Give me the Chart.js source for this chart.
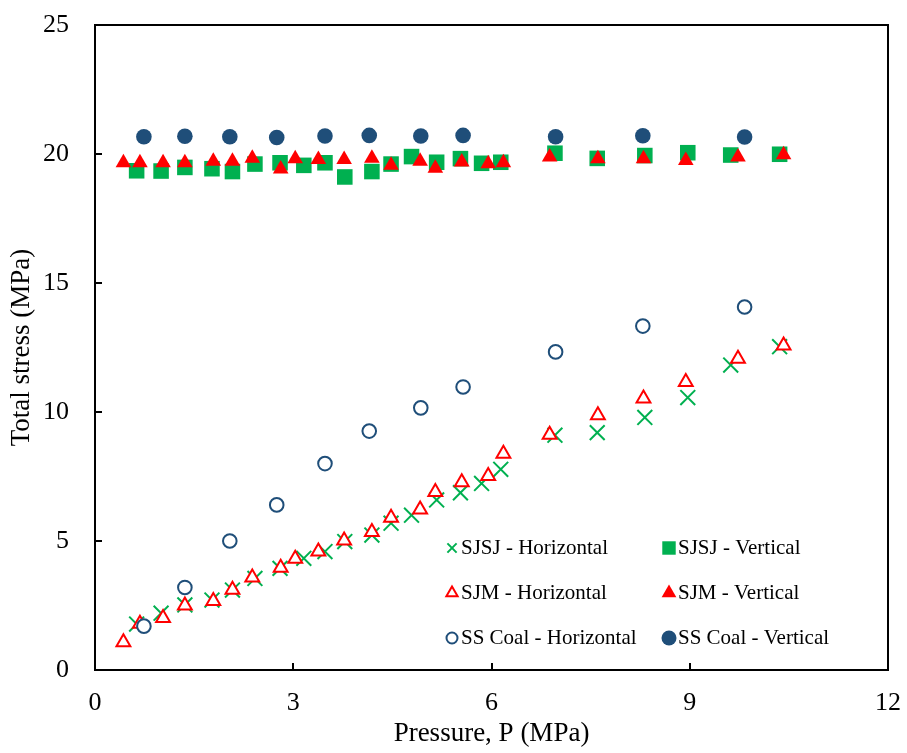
<!DOCTYPE html>
<html>
<head>
<meta charset="utf-8">
<script src="https://cdn.jsdelivr.net/npm/chart.js"></script>
<style>
  html, body { margin: 0; padding: 0; background: #fff; }
</style>
</head>
<body>
<canvas id="chart" width="907" height="753"></canvas>
<script>
// axis ticks
const xTicks = [0, 3, 6, 9, 12];
const yTicks = [0, 5, 10, 15, 20, 25];

// SJSJ
const sjsjPressure = [0.63, 1.0, 1.36, 1.77, 2.08, 2.42, 2.8, 3.16, 3.48, 3.78, 4.19, 4.48, 4.79, 5.17, 5.53, 5.85, 6.14, 6.96, 7.6, 8.32, 8.97, 9.62, 10.36];
const sjsjHorizontal = [1.78, 2.2, 2.52, 2.71, 3.1, 3.55, 3.94, 4.33, 4.59, 4.98, 5.23, 5.69, 6.0, 6.59, 6.87, 7.23, 7.78, 9.1, 9.2, 9.79, 10.56, 11.82, 12.53];
const sjsjVertical = [19.35, 19.34, 19.48, 19.43, 19.32, 19.61, 19.66, 19.56, 19.66, 19.11, 19.32, 19.61, 19.9, 19.68, 19.82, 19.64, 19.68, 20.03, 19.83, 19.94, 20.05, 19.96, 19.99];

// SJM
const sjmPressure = [0.43, 0.68, 1.03, 1.36, 1.79, 2.08, 2.38, 2.81, 3.03, 3.38, 3.77, 4.19, 4.48, 4.92, 5.15, 5.55, 5.95, 6.18, 6.88, 7.61, 8.3, 8.94, 9.73, 10.42];
const sjmHorizontal = [1.08, 1.79, 2.02, 2.5, 2.67, 3.11, 3.59, 3.96, 4.31, 4.59, 5.02, 5.35, 5.9, 6.22, 6.9, 7.28, 7.52, 8.38, 9.12, 9.87, 10.52, 11.16, 12.06, 12.58];
const sjmVertical = [19.66, 19.66, 19.66, 19.66, 19.72, 19.72, 19.84, 19.42, 19.82, 19.79, 19.79, 19.84, 19.56, 19.72, 19.45, 19.69, 19.62, 19.66, 19.88, 19.82, 19.82, 19.75, 19.88, 19.97];

// SS Coal
const ssPressure = [0.74, 1.36, 2.04, 2.75, 3.48, 4.15, 4.93, 5.57, 6.97, 8.29, 9.83];
const ssHorizontal = [1.7, 3.2, 5.0, 6.4, 8.0, 9.26, 10.16, 10.97, 12.33, 13.33, 14.07];
const ssVertical = [20.67, 20.69, 20.67, 20.64, 20.7, 20.72, 20.7, 20.72, 20.67, 20.71, 20.66];

const seriesLabels = ['SJSJ - Horizontal', 'SJSJ - Vertical', 'SJM - Horizontal', 'SJM - Vertical', 'SS Coal - Horizontal', 'SS Coal - Vertical'];

const GREEN = '#00B050';
const RED = '#FF0000';
const BLUE = '#1F4E79';
const FONT = "'Liberation Serif', 'Times New Roman', serif";

const pts = (xs, ys) => xs.map((x, i) => ({ x: x, y: ys[i] }));

const datasets = [
  { label: seriesLabels[0], data: pts(sjsjPressure, sjsjHorizontal), pointStyle: 'crossRot', radius: 10.5, borderColor: GREEN, backgroundColor: GREEN, borderWidth: 2 },
  { label: seriesLabels[1], data: pts(sjsjPressure, sjsjVertical), pointStyle: 'rect', radius: 11, borderColor: GREEN, backgroundColor: GREEN, borderWidth: 0 },
  { label: seriesLabels[2], data: pts(sjmPressure, sjmHorizontal), pointStyle: 'triangle', radius: 8, borderColor: RED, backgroundColor: '#ffffff', borderWidth: 2 },
  { label: seriesLabels[3], data: pts(sjmPressure, sjmVertical), pointStyle: 'triangle', radius: 9, borderColor: RED, backgroundColor: RED, borderWidth: 0 },
  { label: seriesLabels[4], data: pts(ssPressure, ssHorizontal), pointStyle: 'circle', radius: 6.8, borderColor: BLUE, backgroundColor: '#ffffff', borderWidth: 2 },
  { label: seriesLabels[5], data: pts(ssPressure, ssVertical), pointStyle: 'circle', radius: 7.8, borderColor: BLUE, backgroundColor: BLUE, borderWidth: 0 }
];
datasets.forEach((d, i) => {
  d.order = datasets.length - i;
  d.pointRadius = d.radius;
  d.pointHoverRadius = d.radius;
  d.showLine = false;
});

// legend marker drawing
function drawMarker(ctx, style, x, y, r, fill, stroke, lw) {
  ctx.save();
  ctx.beginPath();
  if (style === 'circle') {
    ctx.arc(x, y, r, 0, Math.PI * 2);
  } else if (style === 'rect') {
    const s = r * Math.SQRT1_2;
    ctx.rect(x - s, y - s, 2 * s, 2 * s);
  } else if (style === 'triangle') {
    for (let k = 0; k < 3; k++) {
      const a = k * 2 * Math.PI / 3;
      const px = x + Math.sin(a) * r, py = y - Math.cos(a) * r;
      if (k === 0) ctx.moveTo(px, py); else ctx.lineTo(px, py);
    }
    ctx.closePath();
  } else if (style === 'crossRot') {
    const o = r * Math.SQRT1_2;
    ctx.moveTo(x - o, y - o); ctx.lineTo(x + o, y + o);
    ctx.moveTo(x + o, y - o); ctx.lineTo(x - o, y + o);
  }
  if (fill && style !== 'crossRot') { ctx.fillStyle = fill; ctx.fill(); }
  if (lw > 0) { ctx.strokeStyle = stroke; ctx.lineWidth = lw; ctx.stroke(); }
  ctx.restore();
}

const legendMarkers = [
  { style: 'crossRot', r: 6.5, fill: null, stroke: GREEN, lw: 2 },
  { style: 'rect', r: 9.5, fill: GREEN, stroke: GREEN, lw: 0 },
  { style: 'triangle', r: 6.5, fill: '#ffffff', stroke: RED, lw: 2 },
  { style: 'triangle', r: 8.5, fill: RED, stroke: RED, lw: 0 },
  { style: 'circle', r: 5.5, fill: '#ffffff', stroke: BLUE, lw: 2 },
  { style: 'circle', r: 7.5, fill: BLUE, stroke: BLUE, lw: 0 }
];

const framePlugin = {
  id: 'frame',
  afterDraw(chart) {
    const ctx = chart.ctx;
    const a = chart.chartArea;
    ctx.save();
    ctx.strokeStyle = '#000';
    ctx.lineWidth = 2;
    ctx.strokeRect(a.left, a.top, a.right - a.left, a.bottom - a.top);

    // legend, 2 columns x 3 rows inside the plot
    ctx.font = '21px ' + FONT;
    ctx.fillStyle = '#000';
    ctx.textBaseline = 'middle';
    ctx.textAlign = 'left';
    seriesLabels.forEach((label, i) => {
      const col = i % 2, row = Math.floor(i / 2);
      const mx = a.left + 357 + col * 217;
      const y = a.top + 523 + row * 45;
      const m = legendMarkers[i];
      drawMarker(ctx, m.style, mx, y, m.r, m.fill, m.stroke, m.lw);
      ctx.fillText(label, mx + 9, y);
    });
    ctx.restore();
  }
};

new Chart(document.getElementById('chart'), {
  type: 'scatter',
  data: { datasets: datasets },
  options: {
    responsive: false,
    animation: false,
    devicePixelRatio: 1,
    layout: { padding: { top: 25, right: 19, left: 0, bottom: 0 } },
    plugins: {
      legend: { display: false },
      tooltip: { enabled: false }
    },
    scales: {
      x: {
        type: 'linear',
        min: 0,
        max: 12,
        afterBuildTicks: (scale) => { scale.ticks = xTicks.map(v => ({ value: v })); },
        afterFit: (scale) => { scale.height = 83; scale.paddingLeft = 0; scale.paddingRight = 0; },
        border: { display: true, color: '#000', width: 2 },
        grid: { drawOnChartArea: false, drawTicks: true, tickLength: -7, color: '#000', lineWidth: 2 },
        ticks: { color: '#000', padding: 25, font: { family: FONT, size: 26 } },
        title: { display: true, text: 'Pressure, P (MPa)', color: '#000', font: { family: FONT, size: 27 }, padding: { top: 0, bottom: 3 } }
      },
      y: {
        type: 'linear',
        min: 0,
        max: 25,
        afterBuildTicks: (scale) => { scale.ticks = yTicks.map(v => ({ value: v })); },
        afterFit: (scale) => { scale.width = 95; scale.paddingTop = 0; scale.paddingBottom = 0; },
        border: { display: true, color: '#000', width: 2 },
        grid: { drawOnChartArea: false, drawTicks: true, tickLength: -7, color: '#000', lineWidth: 2 },
        ticks: { color: '#000', padding: 33, font: { family: FONT, size: 26 } },
        title: { display: true, text: 'Total stress (MPa)', color: '#000', font: { family: FONT, size: 27 }, padding: { top: 6, bottom: 0 } }
      }
    }
  },
  plugins: [framePlugin]
});
</script>
</body>
</html>
